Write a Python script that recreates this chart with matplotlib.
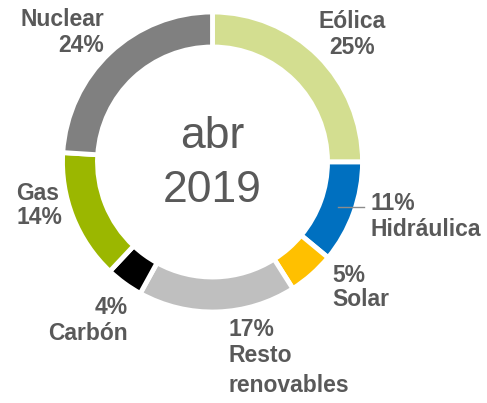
import matplotlib
matplotlib.use("Agg")
import matplotlib.pyplot as plt
import numpy as np

# data
labels = ["Eólica", "Hidráulica", "Solar", "Resto\nrenovables", "Carbón", "Gas", "Nuclear"]
values = [25, 11, 5, 17, 4, 14, 24]
colors = ["#D3DE90", "#0070C0", "#FFC000", "#BFBFBF", "#000000", "#9BB700", "#808080"]
center_text = "abr\n2019"

W, H = 487, 403
fig = plt.figure(figsize=(W / 100, H / 100), dpi=100)
ax = fig.add_axes([0, 0, 1, 1])

cx, cy, R = 212.5, H - 162, 150
ax.pie(values, colors=colors, startangle=90, counterclock=False,
       center=(cx, cy), radius=R,
       wedgeprops=dict(width=35, edgecolor="white", linewidth=3.5))
ax.set_xlim(0, W)
ax.set_ylim(0, H)
ax.set_aspect("auto")
ax.axis("off")

grey = "#595959"
ax.text(cx, H - 148, "abr", ha="center", va="baseline", fontsize=32,
        color=grey, family="Liberation Sans")
ax.text(cx, H - 202, "2019", ha="center", va="baseline", fontsize=32,
        color=grey, family="Liberation Sans")

# label layout: (x, y of first line center, alignment, percent first?)
layout = [
    (352, 22, "center", False),   # Eólica
    (371, 204, "left", True),     # Hidráulica
    (332, 275, "left", True),     # Solar
    (229, 330, "left", True),     # Resto renovables
    (128, 308, "right", True),    # Carbón
    (16, 193, "left", False),     # Gas
    (104, 20, "right", False),    # Nuclear
]
lh = 25
for lab, val, (x, y, ha, pct_first) in zip(labels, values, layout):
    pct = f"{val}%"
    lines = ([pct] + lab.split("\n")) if pct_first else (lab.split("\n") + [pct])
    for i, line in enumerate(lines):
        dy = i * lh if i < 2 else 2 * lh + (i - 1) * 6
        ax.text(x, H - (y + dy), line, ha=ha, va="center", fontsize=16.5,
                fontweight="bold", color=grey, family="Liberation Sans")

# leader line for Hidráulica
start = 90 - sum(values[:1]) * 3.6
mid = np.deg2rad(start - values[1] * 3.6 / 2)
r_mid = R - 17
px, py = cx + r_mid * np.cos(mid), cy + r_mid * np.sin(mid)
ax.plot([px, cx + R + 1], [py, py], color="#8C8C8C", lw=1)

fig.savefig("out.png", dpi=100)
